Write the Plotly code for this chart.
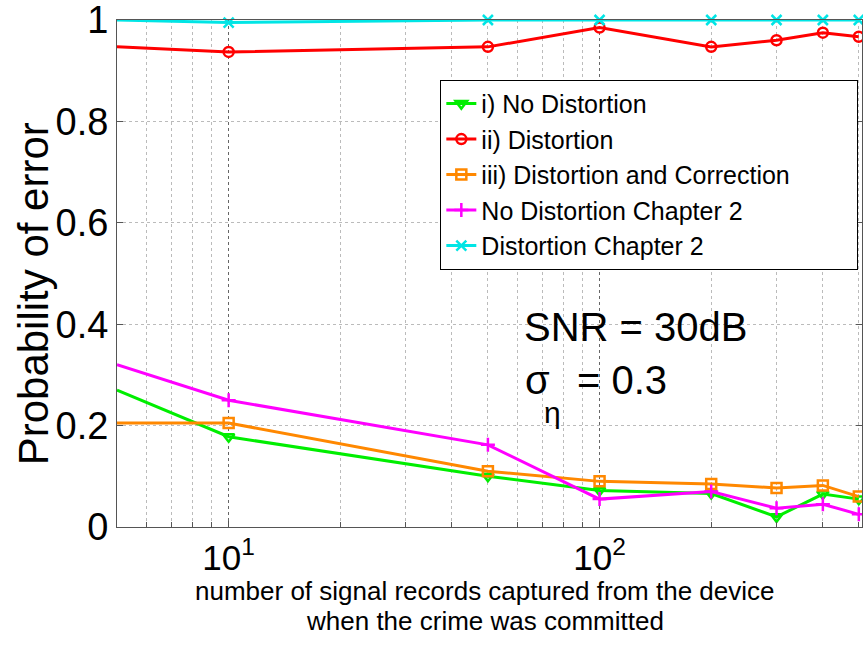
import plotly.graph_objects as go
import numpy as np

x_vals = [5, 10, 50, 100, 200, 300, 400, 500]
no_dist = [0.27, 0.178, 0.10, 0.072, 0.066, 0.02, 0.065, 0.055]
dist = [0.947, 0.937, 0.947, 0.985, 0.947, 0.96, 0.975, 0.967]
dist_corr = [0.205, 0.205, 0.11, 0.09, 0.085, 0.077, 0.082, 0.06]
no_dist_ch2 = [0.32, 0.25, 0.162, 0.055, 0.07, 0.037, 0.045, 0.025]
dist_ch2 = [1.0, 0.995, 1.0, 1.0, 1.0, 1.0, 1.0, 1.0]

series = [
    ("i) No Distortion", no_dist, "#00ee00", "triangle-down-open"),
    ("ii) Distortion", dist, "#ff0000", "circle-open"),
    ("iii) Distortion and Correction" + "\u00a0" * 9, dist_corr, "#ff8800", "square-open"),
    ("No Distortion Chapter 2", no_dist_ch2, "#ff00ff", "cross-thin-open"),
    ("Distortion Chapter 2", dist_ch2, "#00e5e5", "x-thin-open"),
]

fig = go.Figure()
for name, ys, col, sym in series:
    fig.add_trace(go.Scatter(
        x=x_vals, y=ys, name=name, mode="lines+markers",
        line=dict(color=col, width=3),
        marker=dict(symbol=sym, size=10, color=col, line=dict(color=col, width=2.5)),
        cliponaxis=False,
    ))

ff = "Liberation Sans, Arial"
black = "black"

fig.update_layout(
    width=863, height=649,
    margin=dict(l=117, r=1, t=20, b=122, autoexpand=False),
    paper_bgcolor="white", plot_bgcolor="white",
    font=dict(family=ff, color=black),
    showlegend=True,
    legend=dict(
        x=0.434, y=0.882, xanchor="left", yanchor="top",
        bgcolor="white", bordercolor=black, borderwidth=1,
        font=dict(size=25, family=ff, color=black),
        tracegroupgap=0, itemwidth=30,
    ),
    xaxis=dict(
        type="log", range=[np.log10(5), np.log10(510)],
        tickvals=[10, 100], ticktext=["10<sup>1</sup>", "10<sup>2</sup>"],
        tickfont=dict(size=35, family=ff), ticklabelstandoff=0,
        showline=True, linecolor="#555555", linewidth=1, mirror=True,
        showgrid=True, gridcolor="#666666", griddash="dot", gridwidth=1,
        minor=dict(showgrid=True, gridcolor="#bbbbbb", griddash="dot", gridwidth=1,
                   ticks="inside", ticklen=5, tickcolor="#555555",
                   tickvals=[6, 7, 8, 9, 20, 30, 40, 50, 60, 70, 80, 90, 200, 300, 400, 500]),
        ticks="inside", ticklen=6, tickcolor="#555555", zeroline=False,
    ),
    yaxis=dict(
        range=[0, 1], tickvals=[0, 0.2, 0.4, 0.6, 0.8, 1],
        ticktext=["0", "0.2", "0.4", "0.6", "0.8", "1"],
        tickfont=dict(size=38, family=ff), ticklabeloverflow="allow",
        showline=True, linecolor="#555555", linewidth=1, mirror="ticks",
        showgrid=True, gridcolor="#bbbbbb", griddash="dot", gridwidth=1,
        ticks="inside", ticklen=6, tickcolor="#555555", zeroline=False,
    ),
    annotations=[
        # axis titles
        dict(text="number of signal records captured from the device", x=0.494, y=-0.127,
             xref="paper", yref="paper", showarrow=False, xanchor="center", yanchor="middle",
             font=dict(size=26, family=ff, color=black)),
        dict(text="when the crime was committed", x=0.494, y=-0.186,
             xref="paper", yref="paper", showarrow=False, xanchor="center", yanchor="middle",
             font=dict(size=26, family=ff, color=black)),
        dict(text="Probability of error", x=-0.112, y=0.46, textangle=-90,
             xref="paper", yref="paper", showarrow=False, xanchor="center", yanchor="middle",
             font=dict(size=42, family=ff, color=black)),
        # SNR text
        dict(text="SNR = 30dB", x=0.5436, y=0.394, xref="paper", yref="paper",
             showarrow=False, xanchor="left", yanchor="middle",
             font=dict(size=40, family=ff, color=black)),
        dict(text="σ", x=0.545, y=0.290, xref="paper", yref="paper",
             showarrow=False, xanchor="left", yanchor="middle",
             font=dict(size=40, family=ff, color=black)),
        dict(text="η", x=0.571, y=0.226, xref="paper", yref="paper",
             showarrow=False, xanchor="left", yanchor="middle",
             font=dict(size=30, family=ff, color=black)),
        dict(text="= 0.3", x=0.615, y=0.290, xref="paper", yref="paper",
             showarrow=False, xanchor="left", yanchor="middle",
             font=dict(size=40, family=ff, color=black)),
    ],
)

fig.write_html("out.html")
